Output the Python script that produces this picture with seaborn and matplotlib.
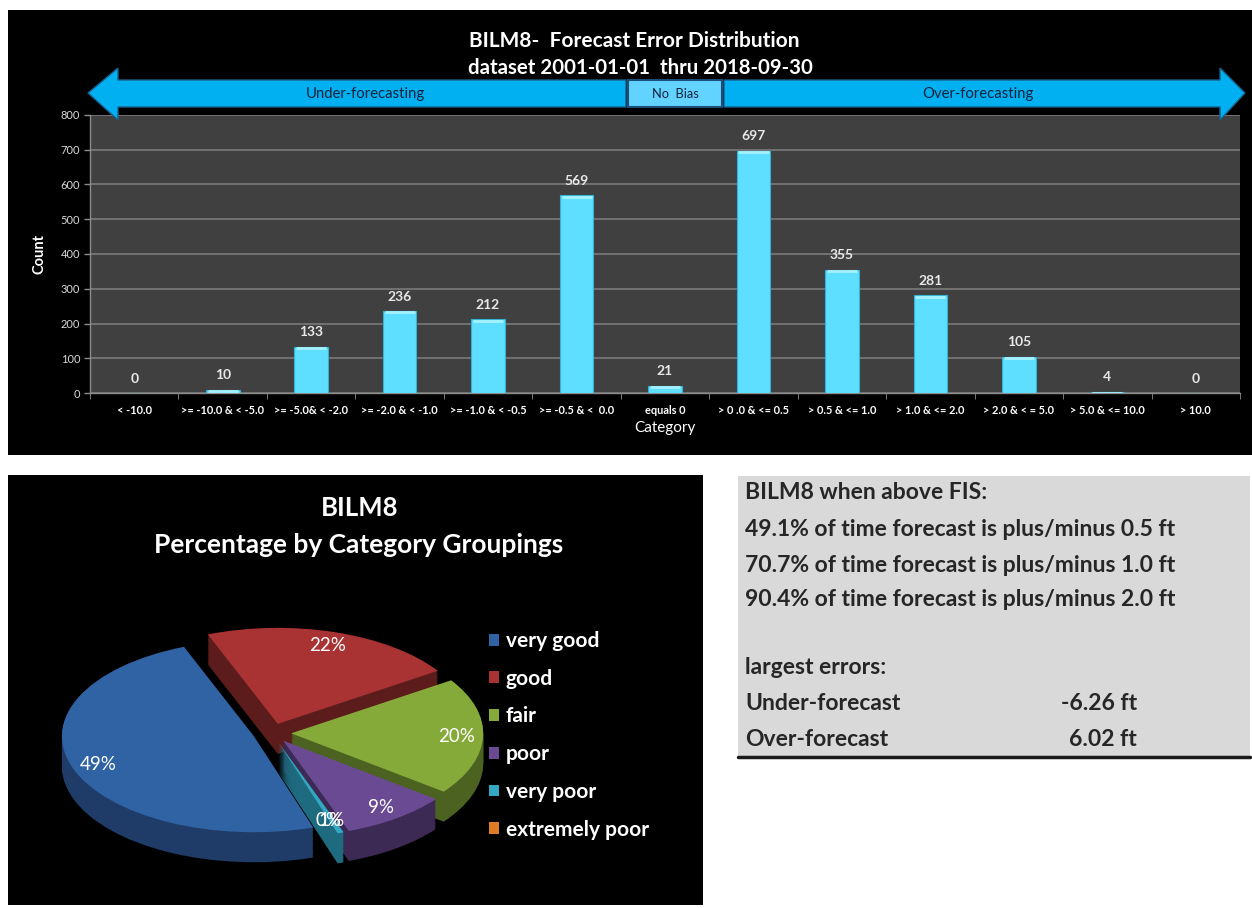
import matplotlib
matplotlib.use("Agg")
import matplotlib.pyplot as plt
import seaborn as sns
import pandas as pd
import numpy as np
from matplotlib.patches import Rectangle, Polygon
from matplotlib.lines import Line2D

# ---- data -----------------------------------------------------------------
categories = ["< -10.0", ">= -10.0 & < -5.0", ">= -5.0& < -2.0", ">= -2.0 & < -1.0",
              ">= -1.0 & < -0.5", ">= -0.5 & <  0.0", "equals 0", "> 0 .0 & <= 0.5",
              "> 0.5 & <= 1.0", "> 1.0 & <= 2.0", "> 2.0 & < = 5.0", "> 5.0 & <= 10.0",
              "> 10.0"]
counts = [0, 10, 133, 236, 212, 569, 21, 697, 355, 281, 105, 4, 0]

group_names = ["very good", "good", "fair", "poor", "very poor", "extremely poor"]
group_counts = [1287, 567, 517, 238, 14, 0]

summary_lines = ["BILM8 when above FIS:",
                 "49.1% of time forecast is plus/minus 0.5 ft",
                 "70.7% of time forecast is plus/minus 1.0 ft",
                 "90.4% of time forecast is plus/minus 2.0 ft",
                 "",
                 "largest errors:",
                 "Under-forecast",
                 "Over-forecast"]
largest_errors = ["-6.26 ft", "6.02 ft"]

# ---- styling ----------------------------------------------------------------
sns.set_style("dark")
plt.rcParams["font.family"] = ["Lato", "DejaVu Sans"]

W, H = 1252, 908
fig = plt.figure(figsize=(W / 100, H / 100), dpi=100, facecolor="white")


def fx(x):
    return x / W


def fy(y):
    return 1 - y / H


def panel(x0, y0, x1, y1, color, z=-10):
    fig.add_artist(Rectangle((fx(x0), fy(y1)), (x1 - x0) / W, (y1 - y0) / H,
                             transform=fig.transFigure, facecolor=color,
                             edgecolor="none", zorder=z))


panel(8, 10, 1252, 455, "black")
panel(8, 475, 703, 905, "black")
panel(738, 476, 1250, 757, "#D9D9D9")
fig.add_artist(Line2D([fx(738), fx(1250)], [fy(757), fy(757)], transform=fig.transFigure,
                      color="#1a1a1a", lw=2.5, zorder=-4))

# ---- histogram of forecast errors -------------------------------------------------
ax = fig.add_axes([fx(90), fy(393), (1240 - 90) / W, (393 - 115) / H])
ax.set_facecolor("#404040")
df = pd.DataFrame({"Category": categories, "Count": counts})
sns.barplot(data=df, x="Category", y="Count", color="#5EDFFF", saturation=1,
            width=0.38, edgecolor="#36B3D4", linewidth=0.8, ax=ax, zorder=3)
# light bevel along each bar top
xs = np.arange(len(counts))
vals = np.array(counts, dtype=float)
nz = vals > 0
ax.hlines(vals[nz] - 4, xs[nz] - 0.17, xs[nz] + 0.17, color="#A6F1FF", lw=2, zorder=4)
ax.set_ylim(0, 800)
ax.set_xlim(-0.5, len(categories) - 0.5)
ax.set_yticks(range(0, 801, 100))
ax.grid(False)
ax.grid(axis="y", color="#7F7F7F", lw=1.1, zorder=0)
ax.set_axisbelow(True)
for c in ax.containers:
    ax.bar_label(c, labels=[str(v) for v in counts], padding=6, color="#E8E8E8",
                 fontsize=10, fontweight="bold")
for s in ["top", "right"]:
    ax.spines[s].set_visible(False)
for s in ["left", "bottom"]:
    ax.spines[s].set_color("#8C8C8C")
    ax.spines[s].set_linewidth(1)
ax.tick_params(axis="y", colors="#8C8C8C", labelcolor="#D9D9D9", labelsize=8,
               length=4, width=1, direction="out", left=True, pad=3)
ax.tick_params(axis="x", which="major", length=0, pad=9, labelsize=7.9,
               labelcolor="white")
ax.set_xticks(np.arange(-0.5, len(categories), 1), minor=True)
ax.tick_params(axis="x", which="minor", length=4, color="#8C8C8C", bottom=True)
for t in ax.get_xticklabels():
    t.set_fontweight("bold")
ax.set_ylabel("Count", color="white", fontsize=10.5, fontweight="bold", labelpad=10)
ax.set_xlabel("Category", color="white", fontsize=11, labelpad=3)

fig.text(fx(634), fy(41), "BILM8-  Forecast Error Distribution", ha="center",
         va="center", fontsize=15, fontweight="bold", color="white")
fig.text(fx(640), fy(68), "dataset 2001-01-01  thru 2018-09-30", ha="center",
         va="center", fontsize=14.7, fontweight="bold", color="white")

# direction arrows above the bars
arrow_kw = dict(transform=fig.transFigure, facecolor="#00B0F0", edgecolor="#1B5E8C",
                lw=1, zorder=5)
left_pts = [(88, 93), (118, 68), (118, 80), (626, 80), (626, 107), (118, 107), (118, 120)]
right_pts = [(724, 80), (1220, 80), (1220, 68), (1245, 93), (1220, 120), (1220, 107), (724, 107)]
fig.add_artist(Polygon([(fx(x), fy(y)) for x, y in left_pts], **arrow_kw))
fig.add_artist(Polygon([(fx(x), fy(y)) for x, y in right_pts], **arrow_kw))
fig.add_artist(Rectangle((fx(628), fy(107)), 94 / W, 27 / H, transform=fig.transFigure,
                         facecolor="#62D3FF", edgecolor="#1B4F7A", lw=1.5, zorder=5))
for x, txt, fs in [(365, "Under-forecasting", 10.7), (675, "No  Bias", 9.3),
                   (978, "Over-forecasting", 10.7)]:
    fig.text(fx(x), fy(94), txt, ha="center", va="center", fontsize=fs,
             color="#14213D", zorder=6)

# ---- grouping pie ------------------------------------------------------------------
top_colors = ["#3063A3", "#A93333", "#86AA3A", "#6A4B93", "#34A7C2", "#E07B25"]
side_colors = ["#1F3C68", "#5C1C1C", "#4B6221", "#3C2A55", "#1E6A7E", "#8A4A14"]
cx, cy, sx, sy = 272, 733, 192, 96
pa = fig.add_axes([fx(20), fy(895), (530 - 20) / W, (895 - 590) / H])
pa.patch.set_alpha(0)
explode = [0.1] * len(group_counts)
depth = 30 / sy
n_layers = 26
for i in range(n_layers):
    off = -depth * (1 - i / n_layers)
    pa.pie(group_counts, colors=side_colors, startangle=288, counterclock=False,
           explode=explode, center=(0, off), wedgeprops=dict(linewidth=0))
pa.pie(group_counts, colors=top_colors, startangle=288, counterclock=False,
       explode=explode, center=(0, 0), wedgeprops=dict(linewidth=0),
       autopct="%.0f%%", pctdistance=0.86,
       textprops=dict(color="white", fontsize=13.5))
pa.set_aspect("auto")
pa.set_xlim((20 - cx) / sx, (530 - cx) / sx)
pa.set_ylim(-(895 - cy) / sy, (cy - 590) / sy)
pa.axis("off")

fig.text(fx(360), fy(508), "BILM8", ha="center", va="center", fontsize=18.5,
         fontweight="bold", color="white")
fig.text(fx(359), fy(545), "Percentage by Category Groupings", ha="center",
         va="center", fontsize=19, fontweight="bold", color="white")

handles = [Rectangle((0, 0), 1, 1, facecolor=c, edgecolor="none") for c in top_colors]
fig.legend(handles, group_names, loc="upper left", bbox_to_anchor=(fx(489), fy(631)),
           frameon=False, fontsize=15, labelcolor="white", handlelength=0.5,
           handleheight=0.5, handletextpad=0.3, labelspacing=0.85,
           borderaxespad=0, borderpad=0, prop=dict(weight="bold", size=15))

# ---- summary text box ----------------------------------------------------------
line_y = [493, 529, 565, 600, 632, 668, 704, 740]
for y, txt in zip(line_y, summary_lines):
    fig.text(fx(745), fy(y), txt, ha="left", va="center", fontsize=16.5,
             fontweight="bold", color="#262626")
for y, txt in zip(line_y[-2:], largest_errors):
    fig.text(fx(1137), fy(y), txt, ha="right", va="center", fontsize=16.5,
             fontweight="bold", color="#262626")

fig.savefig("out.png", dpi=100, facecolor="white")
